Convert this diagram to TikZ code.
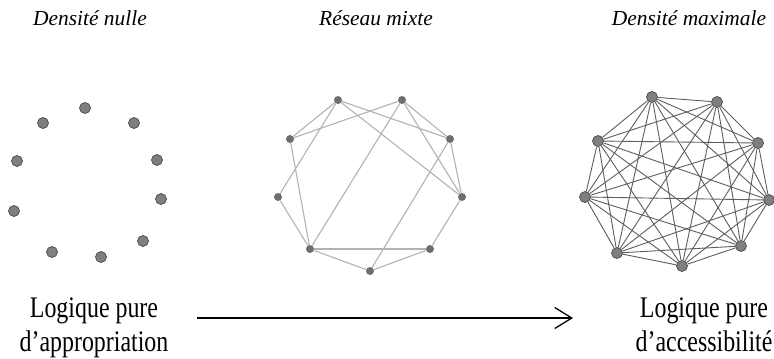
\documentclass[tikz,border=0pt]{standalone}
\usepackage{fontspec}
\setmainfont{Liberation Serif}
\newfontfamily\narrowserif[FakeStretch=0.8]{Liberation Serif}
\usetikzlibrary{arrows.meta,backgrounds}
\definecolor{dotgray}{HTML}{7F7F7F}
\definecolor{dotrim}{HTML}{4A4A4A}
\definecolor{mixdot}{HTML}{6E6E6E}
\definecolor{mixedge}{HTML}{B2B2B2}
\definecolor{fulledge}{HTML}{5E5E5E}

\begin{document}
\begin{tikzpicture}[x=1bp,y=-1bp,>={Straight Barb[length=17bp,width=21bp]},
    lonedot/.style={circle,fill=dotgray,draw=dotrim,line width=0.7bp,minimum size=11bp,inner sep=0pt},
    mixdot/.style={circle,fill=mixdot,minimum size=8bp,inner sep=0pt},
    fulldot/.style={circle,fill=dotgray,draw=dotrim,line width=0.7bp,minimum size=11bp,inner sep=0pt},
    mixlink/.style={draw=mixedge,line width=1.1bp},
    fulllink/.style={draw=fulledge,line width=0.9bp},
    heading/.style={anchor=base,font=\itshape\fontsize{21.5}{24}\selectfont},
    logic/.style={anchor=base,align=center,font=\narrowserif\fontsize{30}{34}\selectfont}]
  \useasboundingbox (0,0) rectangle (774,358);

  % Headings
  \node[heading] (hnull) at (90,25) {Densité nulle};
  \node[heading] (hmix) at (376,25) {Réseau mixte};
  \node[heading] (hmax) at (689,25) {Densité maximale};

  % Zero density: isolated vertices
  \foreach \n/\x/\y in {1/85/108,2/134/123,3/157/160,4/161/199,5/143/241,
                        6/101/257,7/52/252,8/14/211,9/17/161,10/43/123}
    \node[lonedot] (l\n) at (\x,\y) {};

  % Mixed network
  \foreach \n/\x/\y in {1/338/100,2/402/100,3/450/139,4/462/197,5/430/249,
                        6/370/271,7/310/249,8/278/197,9/290/139}
    \node[mixdot] (m\n) at (\x,\y) {};
  \begin{pgfonlayer}{background}
    \foreach \a/\b in {1/9,1/8,1/3,1/4,2/9,2/7,2/3,2/4,3/4,3/6,4/5,
                       7/9,7/8,7/5,7/6,5/6}
      \draw[mixlink] (m\a) -- (m\b);
  \end{pgfonlayer}

  % Maximal density: complete graph
  \foreach \n/\x/\y in {1/652/97,2/717/102,3/758/143,4/769/200,5/741/246,
                        6/682/266,7/617/253,8/585/197,9/598/141}
    \node[fulldot] (r\n) at (\x,\y) {};
  \begin{pgfonlayer}{background}
    \foreach \a in {1,...,8}{
      \pgfmathtruncatemacro{\next}{\a+1}
      \foreach \b in {\next,...,9}
        \draw[fulllink] (r\a) -- (r\b);
    }
  \end{pgfonlayer}

  % Logics
  \node[logic] (appro) at (94,351) {Logique pure\\d’appropriation};
  \node[logic] (acces) at (704,351) {Logique pure\\d’accessibilité};
  \coordinate (arrfrom) at (197,318);
  \coordinate (arrto) at (573,318);
  \draw[->,line width=1.3bp] (arrfrom) -- (arrto);
\end{tikzpicture}
\end{document}
